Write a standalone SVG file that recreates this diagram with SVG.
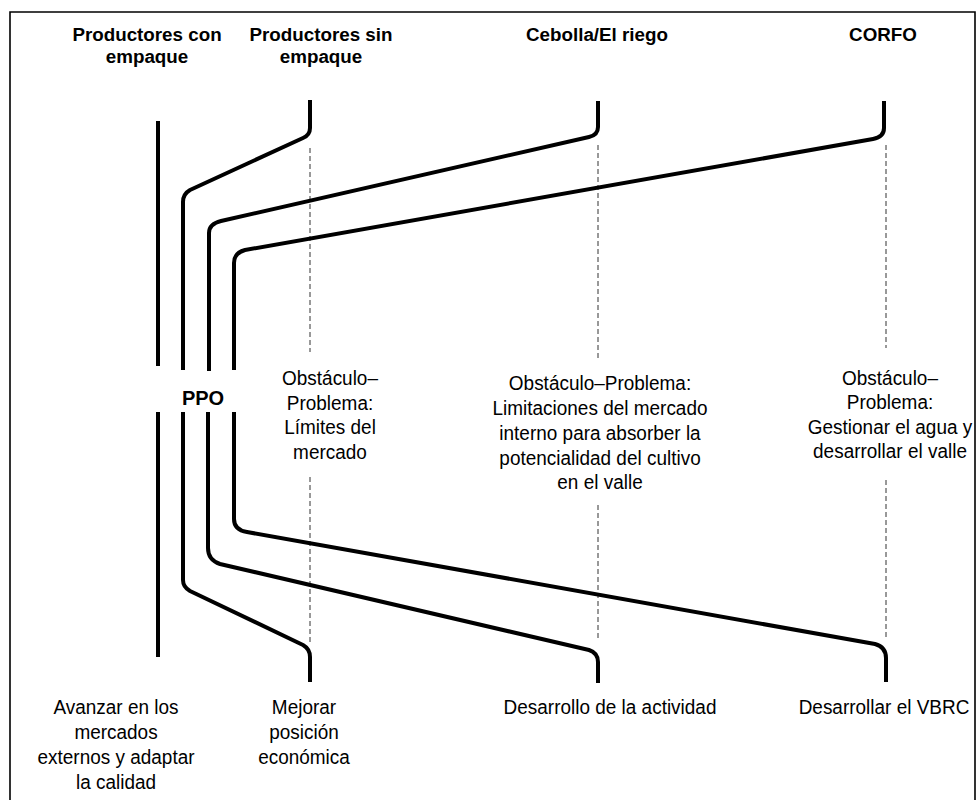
<svg xmlns="http://www.w3.org/2000/svg" width="980" height="800" viewBox="0 0 980 800">
<style>
.frame{fill:none;stroke:#000;stroke-width:1.6}
.hd{font-family:"Liberation Sans",Arial,sans-serif;font-size:18.8px;font-weight:bold;fill:#000;text-anchor:middle}
.tx{font-family:"Liberation Sans",Arial,sans-serif;font-size:20.4px;fill:#000;text-anchor:middle}
.ppo{font-family:"Liberation Sans",Arial,sans-serif;font-size:20px;font-weight:bold;fill:#000;text-anchor:middle}
.thick{fill:none;stroke:#000;stroke-width:4;stroke-linejoin:round}
.dash{fill:none;stroke:#333;stroke-width:1;stroke-dasharray:5,3}
</style>
<rect width="980" height="800" fill="#fff"/>
<path class="frame" d="M10,812 V12 H975 V812"/>

<g id="connectors">
  <path class="dash" d="M310,148 V352 M310,477 V643"/>
  <path class="dash" d="M598,145 V358 M598,505 V638"/>
  <path class="dash" d="M886,145 V348 M886,480 V638"/>
  <path class="thick" d="M158,121 V366 M158,412 V657"/>
  <path class="thick" d="M310,100 V128 Q310,135 303,138 L190,190 Q183,194 183,202 V370"/>
  <path class="thick" d="M183,412 V580 Q183,587 190,591 L303,645 Q310,649 310,657 V682"/>
  <path class="thick" d="M598,101 V127 Q598,135 589,137 L221,221 Q209,224 209,233 V371"/>
  <path class="thick" d="M208,412 V548 Q208,560 220,564 L589,650 Q598,653 598,662 V683"/>
  <path class="thick" d="M884,101 V128 Q884,137 873,139 L245,250 Q234,253 234,263 V370"/>
  <path class="thick" d="M234,412 V519 Q234,530 247,532 L875,644 Q886,647 886,658 V682"/>
</g>

<g id="h-con">
  <text class="hd" x="147" y="41">Productores con</text>
  <text class="hd" x="147" y="63">empaque</text>
</g>
<g id="h-sin">
  <text class="hd" x="321" y="41">Productores sin</text>
  <text class="hd" x="321" y="63">empaque</text>
</g>
<g id="h-cebolla">
  <text class="hd" x="597" y="41">Cebolla/El riego</text>
</g>
<g id="h-corfo">
  <text class="hd" x="883" y="41">CORFO</text>
</g>

<g id="ppo">
  <text class="ppo" x="203" y="405">PPO</text>
</g>

<g id="obs-sin" transform="translate(330,0) scale(0.93,1)">
  <text class="tx" x="0" y="385">Obstáculo–</text>
  <text class="tx" x="0" y="409.7">Problema:</text>
  <text class="tx" x="0" y="434.4">Límites del</text>
  <text class="tx" x="0" y="459">mercado</text>
</g>
<g id="obs-cebolla" transform="translate(600,0) scale(0.93,1)">
  <text class="tx" x="0" y="390">Obstáculo–Problema:</text>
  <text class="tx" x="0" y="415">Limitaciones del mercado</text>
  <text class="tx" x="0" y="440">interno para absorber la</text>
  <text class="tx" x="0" y="465">potencialidad del cultivo</text>
  <text class="tx" x="0" y="489">en el valle</text>
</g>
<g id="obs-corfo" transform="translate(890,0) scale(0.93,1)">
  <text class="tx" x="0" y="385">Obstáculo–</text>
  <text class="tx" x="0" y="409">Problema:</text>
  <text class="tx" x="0" y="434">Gestionar el agua y</text>
  <text class="tx" x="0" y="458">desarrollar el valle</text>
</g>

<g id="goal-con" transform="translate(116,0) scale(0.93,1)">
  <text class="tx" x="0" y="714">Avanzar en los</text>
  <text class="tx" x="0" y="739">mercados</text>
  <text class="tx" x="0" y="764">externos y adaptar</text>
  <text class="tx" x="0" y="789">la calidad</text>
</g>
<g id="goal-sin" transform="translate(304,0) scale(0.93,1)">
  <text class="tx" x="0" y="714">Mejorar</text>
  <text class="tx" x="0" y="739">posición</text>
  <text class="tx" x="0" y="764">económica</text>
</g>
<g id="goal-cebolla" transform="translate(610,0) scale(0.93,1)">
  <text class="tx" x="0" y="714">Desarrollo de la actividad</text>
</g>
<g id="goal-corfo" transform="translate(884,0) scale(0.93,1)">
  <text class="tx" x="0" y="714">Desarrollar el VBRC</text>
</g>
</svg>
